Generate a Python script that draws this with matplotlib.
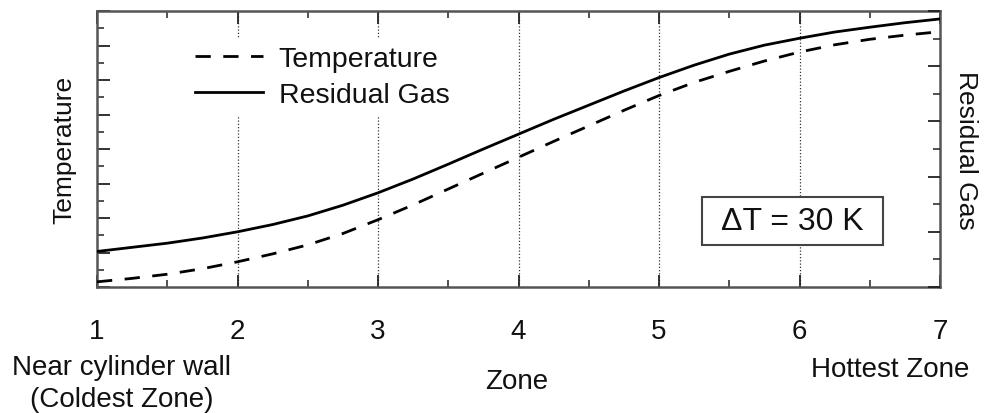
import matplotlib
matplotlib.use('Agg')
import matplotlib.pyplot as plt
from matplotlib.ticker import MultipleLocator
from matplotlib.patches import Rectangle

plt.rcParams['font.family'] = ['Liberation Sans', 'DejaVu Sans']

# zone positions and the two profiles (arbitrary units)
zone = [1, 1.25, 1.5, 1.75, 2, 2.25, 2.5, 2.75, 3, 3.25, 3.5, 3.75, 4,
        4.25, 4.5, 4.75, 5, 5.25, 5.5, 5.75, 6, 6.25, 6.5, 6.75, 7]
temperature = [0.15, 0.25, 0.37, 0.53, 0.73, 0.96, 1.22, 1.55, 1.95, 2.38, 2.84, 3.30, 3.76,
               4.22, 4.67, 5.12, 5.55, 5.93, 6.25, 6.55, 6.81, 7.02, 7.18, 7.30, 7.40]
residual_gas = [1.03, 1.15, 1.27, 1.42, 1.60, 1.81, 2.06, 2.37, 2.73, 3.13, 3.56, 4.00, 4.43,
                4.86, 5.27, 5.68, 6.07, 6.43, 6.75, 7.01, 7.21, 7.39, 7.53, 7.66, 7.77]
zone_ticks = [1, 2, 3, 4, 5, 6, 7]
grid_zones = [2, 3, 4, 5, 6]

ink = '#111111'
fs = 20

fig = plt.figure(figsize=(9.84, 4.14), dpi=100)
ax = fig.add_axes([97/984, 1 - 288/414, (940 - 97)/984, (288 - 12)/414])

for z in grid_zones:
    ax.axvline(z, color='#333333', lw=0.9, ls=(0, (1, 1.6)), zorder=1)

ax.plot(zone, temperature, color='black', lw=2, ls=(0, (5.5, 4.5)), label='Temperature', zorder=3)
ax.plot(zone, residual_gas, color='black', lw=2, label='Residual Gas', zorder=3)

ax.set_xlim(1, 7)
ax.set_ylim(0, 8)
ax.set_xticks(zone_ticks)
ax.set_xticklabels([str(z) for z in zone_ticks], fontsize=fs, color=ink)
ax.xaxis.set_minor_locator(MultipleLocator(0.5))
ax.yaxis.set_major_locator(MultipleLocator(1))
ax.yaxis.set_minor_locator(MultipleLocator(0.5))
ax.set_yticklabels([])
ax.tick_params(which='major', direction='in', length=9, width=1.3, color='#222222',
               top=True, pad=22)
ax.tick_params(which='minor', direction='in', length=5, width=1.1, color='#222222', top=True)
ax.tick_params(axis='y', which='both', labelleft=False)
for s in ax.spines.values():
    s.set_color('#555555')
    s.set_linewidth(1.8)

ax.set_ylabel('Temperature', fontsize=19, color=ink, labelpad=15)

# right axis just for its ticks and label
ax2 = ax.twinx()
ax2.set_ylim(0, 10)
ax2.yaxis.set_major_locator(MultipleLocator(2))
ax2.yaxis.set_minor_locator(MultipleLocator(1))
ax2.tick_params(which='major', direction='in', length=9, width=1.3, color='#222222', labelright=False)
ax2.tick_params(which='minor', direction='in', length=5, width=1.1, color='#222222')
ax2.set_yticklabels([])
for s in ax2.spines.values():
    s.set_visible(False)
ax2.set_ylabel('Residual Gas', fontsize=19, color=ink, rotation=-90, labelpad=24)

leg = ax.legend(loc='upper left', bbox_to_anchor=(0.089, 0.955), frameon=True, fontsize=20.5,
                handlelength=2.4, handletextpad=0.55, labelspacing=0.35, borderpad=0.3,
                fancybox=False)
leg.get_frame().set_edgecolor('none')
leg.get_frame().set_facecolor('white')
leg.get_frame().set_alpha(1)
for t in leg.get_texts():
    t.set_color(ink)

# the delta-T box
ax.add_patch(Rectangle((0.7177, 0.152), 0.2147, 0.174, transform=ax.transAxes,
                       fc='white', ec='#444444', lw=1.5, zorder=5))
ax.text(0.825, 0.239, '\u0394T = 30 K', transform=ax.transAxes, ha='center', va='center',
        fontsize=23, color=ink, zorder=6)

fig.text(122/984, 1 - 368/414, 'Near cylinder wall', ha='center', va='center', fontsize=fs, color=ink)
fig.text(122/984, 1 - 400/414, '(Coldest Zone)', ha='center', va='center', fontsize=fs, color=ink)
fig.text(517/984, 1 - 382/414, 'Zone', ha='center', va='center', fontsize=fs, color=ink)
fig.text(890/984, 1 - 370/414, 'Hottest Zone', ha='center', va='center', fontsize=fs, color=ink)

fig.savefig('out.png', dpi=100)
